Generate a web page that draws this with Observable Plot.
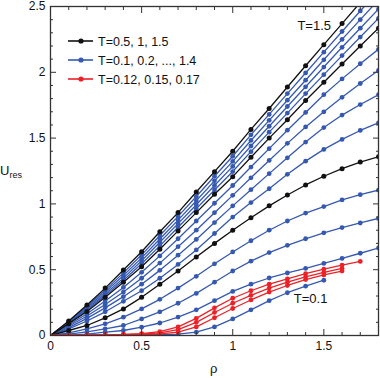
<!DOCTYPE html>
<html><head><meta charset="utf-8">
<script src="https://cdn.jsdelivr.net/npm/d3@7"></script>
<script src="https://cdn.jsdelivr.net/npm/@observablehq/plot@0.6"></script>
<style>
html,body{margin:0;padding:0;background:#fff;}
#wrap{position:relative;width:380px;height:378px;font-family:"Liberation Sans",Arial,Helvetica,sans-serif;color:#111;}
#ylab{position:absolute;left:0px;top:164px;font-size:13px;line-height:1;}
#ylab sub{font-size:9px;vertical-align:-3px;}
#xlab{position:absolute;left:210px;top:362px;font-size:13px;line-height:1;}
#legend{position:absolute;left:66px;top:32px;font-size:12.5px;}
</style></head><body><div id="wrap"><div id="ylab">U<sub>res</sub></div><div id="xlab">ρ</div><div id="legend"></div></div>
<script>
// density grid
const rho = [0,0.1,0.2,0.3,0.4,0.5,0.6,0.7,0.8,0.9,1.0,1.1,1.2,1.3,1.4,1.5,1.6,1.7,1.8];
// black curves
const U_T1_5 = [0,0.11,0.232,0.36,0.498,0.636,0.788,0.934,1.09,1.245,1.40,1.566,1.725,1.888,2.05,2.21,2.37,2.53,2.69];
const U_T1_0 = [0,0.09,0.183,0.29,0.404,0.523,0.655,0.795,0.934,1.073,1.207,1.355,1.50,1.64,1.786,1.925,2.063,2.20,2.335];
const U_T0_5 = [0,0.038,0.076,0.134,0.202,0.29,0.39,0.49,0.597,0.70,0.80,0.895,0.985,1.068,1.144,1.21,1.268,1.318,1.358];
// blue curves
const U_T1_4 = [0,0.106,0.222,0.345,0.476,0.613,0.760,0.905,1.056,1.21,1.362,1.525,1.68,1.838,1.995,2.153,2.31,2.466,2.62];
const U_T1_3 = [0,0.102,0.212,0.33,0.456,0.59,0.733,0.877,1.024,1.175,1.323,1.482,1.635,1.788,1.94,2.095,2.25,2.4,2.55];
const U_T1_2 = [0,0.098,0.203,0.316,0.436,0.568,0.708,0.85,0.994,1.14,1.285,1.44,1.59,1.74,1.89,2.04,2.19,2.335,2.48];
const U_T1_1 = [0,0.094,0.193,0.303,0.42,0.545,0.681,0.822,0.963,1.106,1.246,1.397,1.545,1.69,1.838,1.982,2.127,2.268,2.41];
const U_T0_9 = [0,0.08,0.165,0.262,0.365,0.48,0.605,0.735,0.87,1.005,1.14,1.28,1.42,1.56,1.695,1.83,1.95,2.065,2.175];
const U_T0_8 = [0,0.07,0.148,0.236,0.33,0.435,0.55,0.675,0.80,0.933,1.065,1.198,1.33,1.46,1.585,1.70,1.81,1.915,2.015];
const U_T0_7 = [0,0.06,0.13,0.21,0.295,0.39,0.495,0.61,0.73,0.858,0.985,1.108,1.23,1.35,1.47,1.58,1.675,1.755,1.83];
const U_T0_6 = [0,0.05,0.11,0.18,0.26,0.34,0.435,0.54,0.65,0.775,0.90,1.01,1.115,1.225,1.325,1.414,1.49,1.558,1.616];
const U_T0_4 = [0,0.02,0.05,0.089,0.139,0.202,0.275,0.36,0.45,0.545,0.635,0.72,0.80,0.87,0.93,0.98,1.03,1.07,1.105];
const U_T0_3 = [0,0.01,0.028,0.051,0.076,0.126,0.18,0.245,0.32,0.405,0.49,0.565,0.63,0.685,0.735,0.78,0.82,0.855,0.89];
const U_T0_2 = [0,0.003,0.01,0.025,0.038,0.063,0.095,0.14,0.195,0.265,0.335,0.39,0.437,0.475,0.51,0.548,0.586,0.625,0.665];
const U_T0_1 = [0,0,0,0.001,0.002,0.004,0.006,0.01,0.025,0.065,0.126,0.195,0.265,0.325,0.375,0.42];
// red curves
const U_T0_12 = [0,0,0.001,0.002,0.004,0.007,0.012,0.025,0.065,0.135,0.205,0.27,0.33,0.38,0.425,0.46,0.49];
const U_T0_15 = [0,0.001,0.002,0.004,0.007,0.01,0.02,0.045,0.10,0.175,0.245,0.305,0.36,0.405,0.445,0.48,0.51];
const U_T0_17 = [0,0.001,0.003,0.005,0.008,0.015,0.03,0.065,0.13,0.21,0.283,0.34,0.39,0.43,0.47,0.505,0.535,0.563];

const blackSeries = [["1.5",U_T1_5],["1.0",U_T1_0],["0.5",U_T0_5]];
const blueSeries = [["1.4",U_T1_4],["1.3",U_T1_3],["1.2",U_T1_2],["1.1",U_T1_1],["0.9",U_T0_9],["0.8",U_T0_8],["0.7",U_T0_7],["0.6",U_T0_6],["0.4",U_T0_4],["0.3",U_T0_3],["0.2",U_T0_2],["0.1",U_T0_1]];
const redSeries = [["0.12",U_T0_12],["0.15",U_T0_15],["0.17",U_T0_17]];

const xMajor = [0,0.5,1,1.5];
const xMinor = [0.1,0.2,0.3,0.4,0.6,0.7,0.8,0.9,1.1,1.2,1.3,1.4,1.6,1.7];
const yMajor = [0,0.5,1,1.5,2,2.5];
const yMinor = [0.1,0.2,0.3,0.4,0.6,0.7,0.8,0.9,1.1,1.2,1.3,1.4,1.6,1.7,1.8,1.9,2.1,2.2,2.3,2.4];

const annotations = [{x:1.355,y:2.356,text:"T=1.5"},{x:1.335,y:0.28,text:"T=0.1"}];
const legendItems = [{label:"T=0.5, 1, 1.5",color:"#111111"},{label:"T=0.1, 0.2, ..., 1.4",color:"#3558b0"},{label:"T=0.12, 0.15, 0.17",color:"#ea2228"}];

const BLUE="#3558b0", BLACK="#111111", RED="#ea2228", AX="#333333";

function toRows(series){
  const rows=[];
  for(const [T,arr] of series) arr.forEach((u,i)=>rows.push({T,rho:rho[i],U:u}));
  return rows;
}
const blue=toRows(blueSeries), black=toRows(blackSeries), red=toRows(redSeries);
const dotsOf = rows => rows.filter(d=>d.rho>0);
const blank = () => "";

const chart = Plot.plot({
  width:380, height:378,
  marginLeft:50, marginRight:2, marginTop:6, marginBottom:43,
  style:{fontFamily:'"Liberation Sans",Arial,Helvetica,sans-serif', fontSize:"12px", color:"#111", background:"white", overflow:"visible"},
  x:{domain:[0,1.8], axis:null},
  y:{domain:[0,2.5], axis:null},
  marks:[
    Plot.line(blue,{x:"rho",y:"U",z:"T",stroke:BLUE,strokeWidth:1.3,clip:true}),
    Plot.dot(dotsOf(blue),{x:"rho",y:"U",fill:BLUE,r:2.4,clip:true}),
    Plot.line(black,{x:"rho",y:"U",z:"T",stroke:BLACK,strokeWidth:1.3,clip:true}),
    Plot.dot(dotsOf(black),{x:"rho",y:"U",fill:BLACK,r:2.5,clip:true}),
    Plot.line(red,{x:"rho",y:"U",z:"T",stroke:RED,strokeWidth:1.3,clip:true}),
    Plot.dot(dotsOf(red),{x:"rho",y:"U",fill:RED,r:2.4,clip:true}),
    Plot.text(annotations,{x:"x",y:"y",text:"text",textAnchor:"start",fontSize:13,fill:"#111"}),
    Plot.frame({stroke:AX,strokeWidth:1.3}),
    // bottom
    Plot.axisX({anchor:"bottom",ticks:xMajor,tickSize:0,tickPadding:6,tickFormat:d=>String(d),label:null,fontSize:12}),
    Plot.axisX({anchor:"bottom",ticks:xMajor,tickSize:-6,tickFormat:blank,label:null,stroke:AX}),
    Plot.axisX({anchor:"bottom",ticks:xMinor,tickSize:-3,tickFormat:blank,label:null,stroke:AX}),
    // top
    Plot.axisX({anchor:"top",ticks:xMajor,tickSize:-6,tickFormat:blank,label:null,stroke:AX}),
    Plot.axisX({anchor:"top",ticks:xMinor,tickSize:-3,tickFormat:blank,label:null,stroke:AX}),
    // left
    Plot.axisY({anchor:"left",ticks:yMajor,tickSize:0,tickPadding:5,tickFormat:d=>String(d),label:null,fontSize:12}),
    Plot.axisY({anchor:"left",ticks:yMajor,tickSize:-6,tickFormat:blank,label:null,stroke:AX}),
    Plot.axisY({anchor:"left",ticks:yMinor,tickSize:-3,tickFormat:blank,label:null,stroke:AX}),
    // right
    Plot.axisY({anchor:"right",ticks:yMajor,tickSize:-6,tickFormat:blank,label:null,stroke:AX}),
    Plot.axisY({anchor:"right",ticks:yMinor,tickSize:-3,tickFormat:blank,label:null,stroke:AX})
  ]
});
chart.style.position="absolute"; chart.style.left="0"; chart.style.top="0";
const wrap=document.getElementById("wrap");
wrap.insertBefore(chart, wrap.firstChild);

// legend
const ns="http://www.w3.org/2000/svg";
const lg=document.createElementNS(ns,"svg");
lg.setAttribute("width","160"); lg.setAttribute("height","60");
legendItems.forEach((it,i)=>{
  const cy=9+i*19;
  const ln=document.createElementNS(ns,"line");
  ln.setAttribute("x1",2);ln.setAttribute("x2",27);ln.setAttribute("y1",cy);ln.setAttribute("y2",cy);
  ln.setAttribute("stroke",it.color);ln.setAttribute("stroke-width",1.6);
  lg.appendChild(ln);
  const c=document.createElementNS(ns,"circle");
  c.setAttribute("cx",15);c.setAttribute("cy",cy);c.setAttribute("r",2.6);c.setAttribute("fill",it.color);
  lg.appendChild(c);
  const t=document.createElementNS(ns,"text");
  t.setAttribute("x",32);t.setAttribute("y",cy+4.5);t.setAttribute("fill","#111");
  t.setAttribute("font-size","12.5");t.textContent=it.label;
  lg.appendChild(t);
});
document.getElementById("legend").appendChild(lg);
</script></body></html>
